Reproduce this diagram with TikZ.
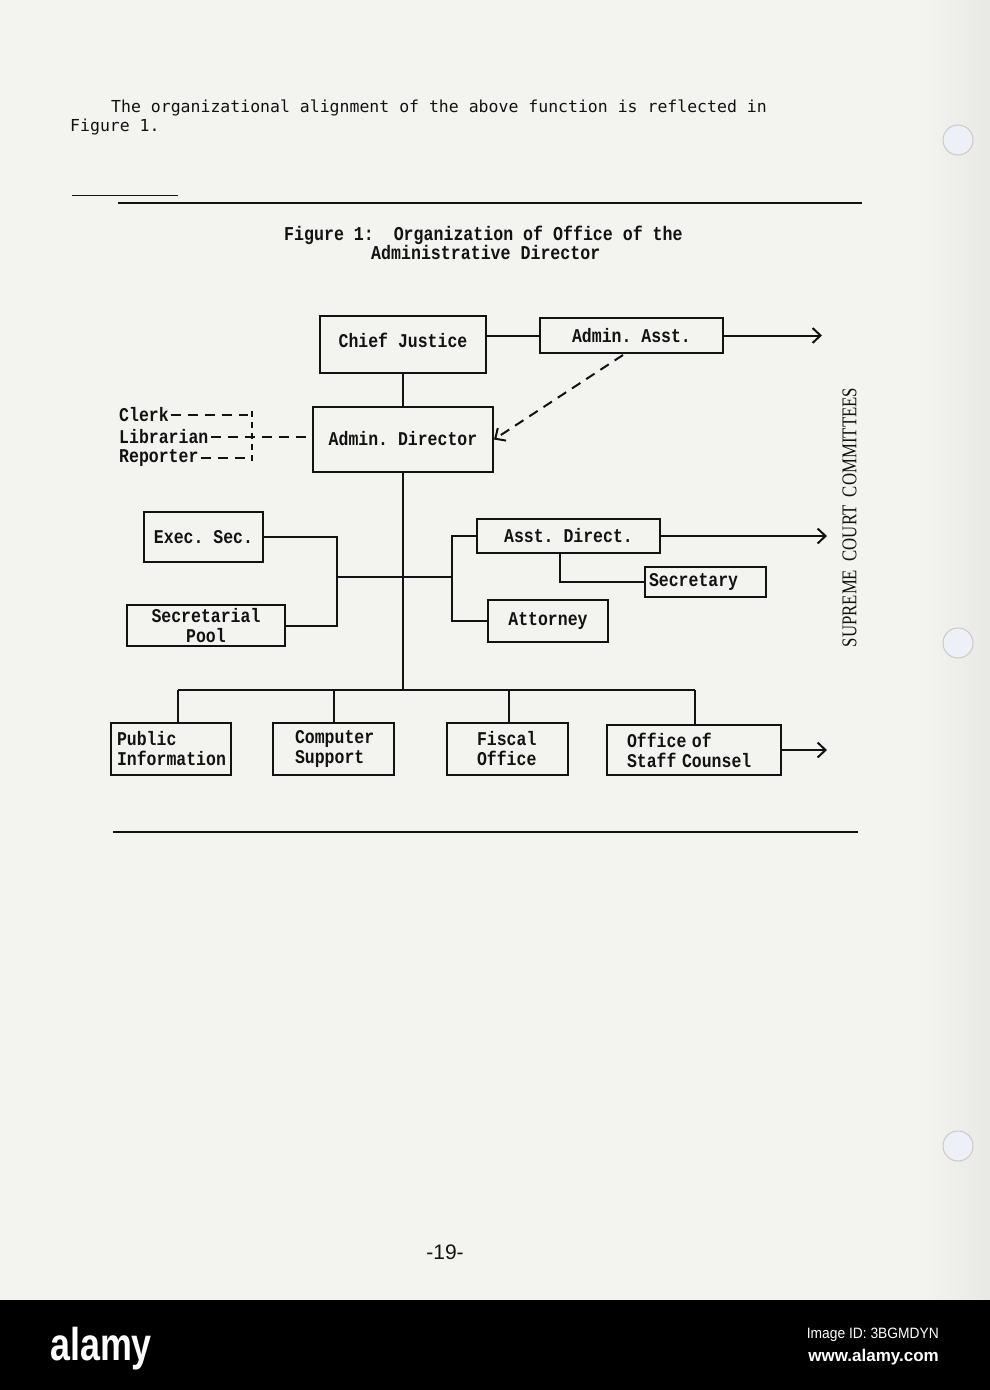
\documentclass[tikz,border=0pt]{standalone}
\usepackage{fontspec}
\setmainfont{Liberation Serif}
\newfontfamily\tw{Liberation Mono}
\newfontfamily\hdr{DejaVu Sans Mono}
\newfontfamily\lsans{Liberation Sans}
\usetikzlibrary{arrows.meta}
\frenchspacing
\definecolor{paper}{HTML}{F3F3EF}
\definecolor{edgepaper}{HTML}{E8E8E4}
\definecolor{hole}{HTML}{EEF0F7}
\definecolor{holeedge}{HTML}{C9C9C6}
\definecolor{ink}{HTML}{121212}
\newcommand\boxfont{\tw\bfseries\fontsize{16.5}{20}\selectfont}
\newcommand\T[1]{\scalebox{1}[1.18]{#1}}
\tikzset{
  box/.style={draw=ink, line width=2pt, inner sep=0pt, font=\boxfont, text=ink, align=center},
  lbl/.style={inner sep=2pt, font=\boxfont, text=ink},
  ln/.style={draw=ink, line width=2pt},
  dsh/.style={draw=ink, line width=2pt, dash pattern=on 10pt off 7pt},
  vdsh/.style={draw=ink, line width=1.6pt, dash pattern=on 6pt off 5pt},
  arr/.style={-{Straight Barb[length=8pt,width=15pt]}},
  rule/.style={draw=ink, line width=2pt}
}
\begin{document}
\begin{tikzpicture}[x=1pt,y=-1pt]
\useasboundingbox (0,0) rectangle (990,1390);
% paper
\fill[paper] (0,0) rectangle (990,1300);
\shade[left color=paper, right color=edgepaper] (925,0) rectangle (990,1300);
\foreach \hy in {140,643,1146}{
  \filldraw[fill=hole, draw=holeedge, line width=1pt] (958,\hy) circle (15);
}
% header text
\node[anchor=base west, inner sep=0pt, font=\hdr\fontsize{16.5}{20}\selectfont, text=ink] (t1) at (111,112) {The organizational alignment of the above function is reflected in};
\node[anchor=base west, inner sep=0pt, font=\hdr\fontsize{16.5}{20}\selectfont, text=ink] (t2) at (70,131) {Figure 1.};
% rules
\coordinate (r0a) at (72,195); \coordinate (r0b) at (178,195);
\draw[draw=ink, line width=1pt] (r0a) -- (r0b);
\coordinate (r1a) at (118,203); \coordinate (r1b) at (862,203);
\draw[rule] (r1a) -- (r1b);
\coordinate (r2a) at (113,832); \coordinate (r2b) at (858,832);
\draw[rule] (r2a) -- (r2b);
% title
\node[anchor=base west, inner sep=0pt, font=\tw\bfseries\fontsize{16.6}{20}\selectfont, text=ink] (ti1) at (284,240) {\T{Figure 1:\ \ Organization of Office of the}};
\node[anchor=base west, inner sep=0pt, font=\tw\bfseries\fontsize{16.6}{20}\selectfont, text=ink] (ti2) at (371,259) {\T{Administrative Director}};
% boxes
\node[box, minimum width=166pt, minimum height=57pt] (CJ) at (403,344.5) {\raisebox{9pt}{\T{Chief Justice}}};
\node[box, minimum width=183pt, minimum height=35pt] (AA) at (631.5,335.5) {\T{Admin. Asst.}};
\node[box, minimum width=180pt, minimum height=65pt] (AD) at (403,439.5) {\raisebox{2pt}{\T{Admin. Director}}};
\node[box, minimum width=119pt, minimum height=50pt] (ES) at (203.5,537) {\T{Exec. Sec.}};
\node[box, minimum width=158pt, minimum height=41pt] (SP) at (206,625.5) {\T{Secretarial}\\\T{Pool}};
\node[box, minimum width=183pt, minimum height=34pt] (ADir) at (568.5,536) {\T{Asst. Direct.}};
\node[box, align=left, text width=113pt, inner xsep=4pt, minimum height=30pt] (Sec) at (705.5,582) {\T{Secretary}};
\node[box, minimum width=120pt, minimum height=42pt] (Att) at (548,621) {\T{Attorney}};
\node[box, align=left, text width=108pt, inner xsep=6pt, minimum height=52pt] (PI) at (171,749) {\T{Public}\\\T{Information}};
\node[box, align=left, text width=77pt, inner xsep=22pt, minimum height=52pt] (CS) at (333.5,749) {\T{Computer}\\\T{Support}};
\node[box, align=left, text width=61pt, inner xsep=30pt, minimum height=52pt] (FO) at (507.5,749) {\T{Fiscal}\\\T{Office}};
\node[box, align=left, text width=134pt, inner xsep=20pt, minimum height=50pt] (OSC) at (694,750) {\T{Office of}\\\T{Staff Counsel}};
% side labels
\node[lbl, anchor=west] (Clk) at (117,415) {\T{Clerk}};
\node[lbl, anchor=west] (Lib) at (117,437) {\T{Librarian}};
\node[lbl, anchor=west] (Rep) at (117,458) {\T{Reporter}};
% vertical label
\node[rotate=90, inner sep=0pt, text=ink, font=\fontsize{16.8}{18}\selectfont] (SCC) at (849.5,517.5) {\scalebox{1}[1.25]{SUPREME\ \ COURT\ \ COMMITTEES}};
% connectors: top
\draw[ln] (CJ.east |- AA.west) -- (AA.west);
\coordinate (aaE) at (822,335.5);
\draw[ln, arr] (AA.east) -- (aaE);
\coordinate (ds) at (623,355);
\draw[dsh, arr] (ds) -- (AD.east);
\draw[ln] (CJ.south) -- (AD.north);
% dashed staff lines
\coordinate (ckE) at (248,415);
\coordinate (rpE) at (248,458);
\coordinate (vt) at (252,411);
\coordinate (vb) at (252,461);
\draw[dsh] (Clk.east) -- (ckE);
\draw[dsh] (Rep.east) -- (rpE);
\draw[dsh] (Lib.east) -- (Lib.east -| AD.west);
\draw[vdsh] (vt) -- (vb);
% main spine
\coordinate (bm) at (403,690);
\draw[ln] (AD.south) -- (bm);
% left bracket
\coordinate (lj) at (337,577);
\coordinate (rj) at (452,577);
\draw[ln] (lj) -- (rj);
\draw[ln] (ES.east) -| (lj);
\draw[ln] (SP.east) -| (lj);
% right bracket
\draw[ln] (ADir.west) -| (rj);
\draw[ln] (Att.west) -| (rj);
\coordinate (sx) at (560,553);
\draw[ln] (sx) |- (Sec.west);
\coordinate (adE) at (827,536);
\draw[ln, arr] (ADir.east) -- (adE);
% bottom bus
\coordinate (b1) at (178,690);
\coordinate (b2) at (334,690);
\coordinate (b3) at (509,690);
\coordinate (b4) at (695,690);
\draw[ln] (b1) -- (b4);
\draw[ln] (b1) -- (b1 |- PI.north);
\draw[ln] (b2) -- (b2 |- CS.north);
\draw[ln] (b3) -- (b3 |- FO.north);
\draw[ln] (b4) -- (b4 |- OSC.north);
\coordinate (osE) at (827,750);
\draw[ln, arr] (OSC.east) -- (osE);
% page number
\node[anchor=base, inner sep=0pt, text=ink, font=\lsans\fontsize{21}{24}\selectfont] (pg) at (445,1259) {-19-};
% watermark band
\fill[black] (0,1300) rectangle (990,1390);
\node[anchor=base west, inner sep=0pt, text=white, font=\lsans\bfseries\fontsize{46}{50}\selectfont] (logo) at (50,1360) {\scalebox{0.78}[1]{alamy}};
\node[anchor=base east, inner sep=0pt, text=white, font=\lsans\fontsize{15}{18}\selectfont] (iid) at (939,1338) {\scalebox{0.92}[1]{Image ID: 3BGMDYN}};
\node[anchor=base east, inner sep=0pt, text=white, font=\lsans\bfseries\fontsize{17}{20}\selectfont] (www) at (939,1361) {www.alamy.com};
\end{tikzpicture}
\end{document}
